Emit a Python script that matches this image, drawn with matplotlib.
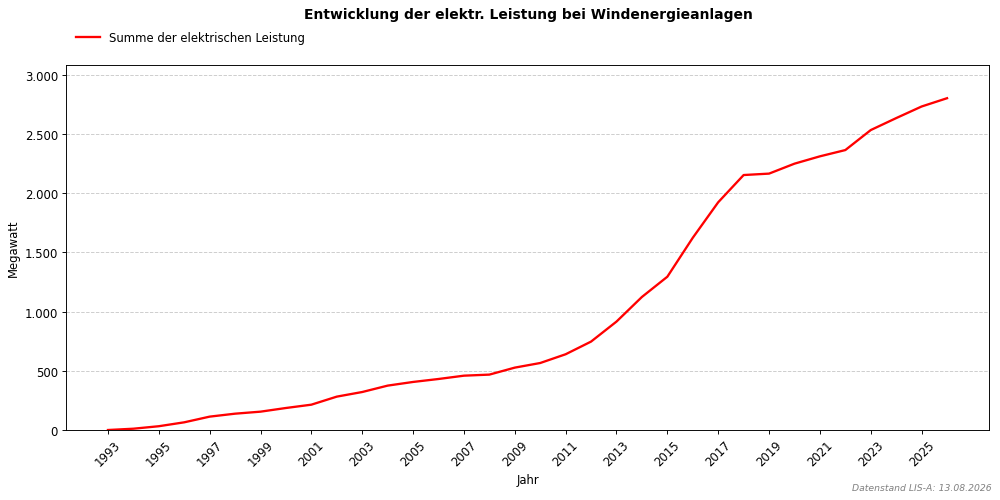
import matplotlib
matplotlib.use("Agg")
import matplotlib.pyplot as plt
from matplotlib.ticker import FuncFormatter

years = list(range(1993, 2027))
leistung = [0, 11, 32, 65, 113, 138, 155, 186, 214, 282, 321, 375, 406, 431, 459, 468,
            527, 566, 640, 747, 916, 1124, 1295, 1624, 1924, 2154, 2166, 2250, 2312, 2365,
            2534, 2635, 2733, 2803]
xticks = list(range(1993, 2027, 2))

DPI = 1000 / 12
fig = plt.figure(figsize=(12, 6.012), dpi=DPI)
ax = fig.add_axes([0.066, 0.1397, 0.923, 0.7285])
line, = ax.plot(years, leistung, color="red", linewidth=2, label="Summe der elektrischen Leistung")
ax.set_ylim(0, max(leistung) * 1.1)
ax.set_xlim(1991.35, 2027.65)
ax.set_xticks(xticks)
ax.set_xticklabels([str(x) for x in xticks], rotation=45)
ax.yaxis.set_major_formatter(FuncFormatter(lambda v, p: f"{int(v):,}".replace(",", ".")))
ax.grid(axis="y", linestyle="--", color="#cccccc", linewidth=0.8)
ax.set_axisbelow(True)
ax.set_xlabel("Jahr")
ax.set_ylabel("Megawatt")
fig.suptitle("Entwicklung der elektr. Leistung bei Windenergieanlagen", fontweight="bold",
             fontsize=12, x=0.528, y=0.984)
fig.legend(handles=[line], loc="upper left", bbox_to_anchor=(0.066, 0.956), frameon=False,
           fontsize=10)
fig.text(0.992, 0.016, "Datenstand LIS-A: 13.08.2026", ha="right", va="bottom",
         fontsize=8, style="italic", color="gray")
fig.savefig("out.png", dpi=DPI)
